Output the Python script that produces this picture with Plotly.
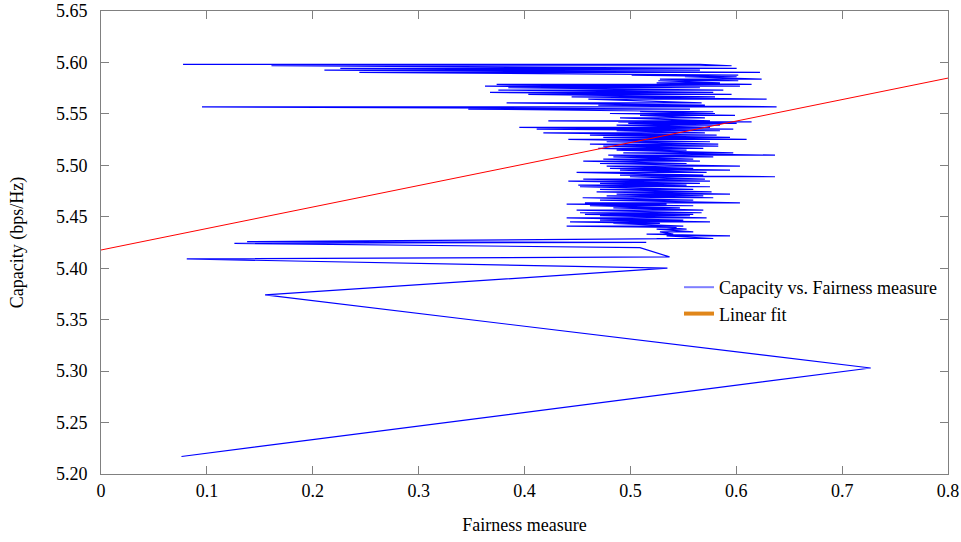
import plotly.graph_objects as go

# Lower, sparse part of the path (fairness, capacity) in path order
tail_fairness = [0.076, 0.727, 0.155, 0.535, 0.081, 0.537, 0.509, 0.126, 0.515, 0.138, 0.537]
tail_capacity = [5.217, 5.303, 5.374, 5.400, 5.409, 5.411, 5.420, 5.4242, 5.4252, 5.4258, 5.4287]

# Dense part: capacity levels with left and right fairness extents of each stroke
level_capacity = [5.4289, 5.4315, 5.4332, 5.4354, 5.4380, 5.4396, 5.4409, 5.4435, 5.4451, 5.4468,
                  5.4490, 5.4510, 5.4523, 5.4539, 5.4565, 5.4587, 5.4607, 5.4623, 5.4636, 5.4662,
                  5.4685, 5.4704, 5.4720, 5.4743, 5.4766, 5.4792, 5.4808, 5.4824, 5.4847, 5.4866,
                  5.4889, 5.4905, 5.4931, 5.4954, 5.4970, 5.4992, 5.5018, 5.5041, 5.5061, 5.5083,
                  5.5099, 5.5122, 5.5148, 5.5164, 5.5187, 5.5206, 5.5229, 5.5252, 5.5271, 5.5294,
                  5.5316, 5.5336, 5.5352, 5.5368, 5.5391, 5.5407, 5.5423, 5.5433, 5.5462, 5.5485,
                  5.5504, 5.5521, 5.5547, 5.5569, 5.5585, 5.5608, 5.5644, 5.5666, 5.5689, 5.5709,
                  5.5731, 5.5754, 5.5770, 5.5786, 5.5802, 5.5822, 5.5838, 5.5861, 5.5877, 5.5903,
                  5.5926, 5.5942, 5.5968, 5.5981]
level_left = [0.5248, 0.5342, 0.5153, 0.5279, 0.5248, 0.5342, 0.4398, 0.4839, 0.4430, 0.4713,
              0.4398, 0.4713, 0.4571, 0.4524, 0.4492, 0.4839, 0.4618, 0.4398, 0.4571, 0.4713,
              0.4549, 0.4776, 0.4870, 0.4681, 0.4713, 0.4524, 0.4508, 0.4713, 0.4414, 0.4555,
              0.4996, 0.4902, 0.4492, 0.4902, 0.4807, 0.4776, 0.4713, 0.4555, 0.4744, 0.4839,
              0.4791, 0.4933, 0.4870, 0.4697, 0.4744, 0.4618, 0.4776, 0.4414, 0.4744, 0.4618,
              0.4178, 0.4870, 0.4115, 0.3951, 0.4870, 0.4980, 0.4886, 0.4225, 0.4902, 0.5091,
              0.4807, 0.5091, 0.3469, 0.0954, 0.4697, 0.3831, 0.4603, 0.4445, 0.4036, 0.3674,
              0.3753, 0.3847, 0.3627, 0.3737, 0.5248, 0.5264, 0.5279, 0.5515, 0.5012, 0.244,
              0.211, 0.226, 0.161, 0.0775]
level_right = [0.5783, 0.5941, 0.5405, 0.5594, 0.5531, 0.5437, 0.5500, 0.5279, 0.5752, 0.5500,
               0.5720, 0.5563, 0.5594, 0.5673, 0.5689, 0.5468, 0.5594, 0.5342, 0.6035, 0.5594,
               0.5783, 0.5689, 0.5941, 0.5767, 0.5594, 0.5752, 0.5531, 0.5657, 0.5752, 0.5704,
               0.6366, 0.5689, 0.5720, 0.5941, 0.5594, 0.6035, 0.5531, 0.5657, 0.5594, 0.5783,
               0.6366, 0.5972, 0.5531, 0.5689, 0.5830, 0.5830, 0.5752, 0.6098, 0.5941, 0.5815,
               0.5704, 0.5846, 0.5972, 0.5752, 0.5846, 0.6004, 0.6145, 0.5752, 0.5704, 0.5988,
               0.5799, 0.5783, 0.5563, 0.6381, 0.5704, 0.5673, 0.6287, 0.5799, 0.5956, 0.5783,
               0.5878, 0.5657, 0.6035, 0.6145, 0.5846, 0.6019, 0.6240, 0.6004, 0.6019, 0.6224,
               0.5657, 0.6004, 0.5956, 0.5657]

# Linear fit end points
fit_fairness = [0.0, 0.8]
fit_capacity = [5.4177, 5.5848]

x_ticks = [0, 0.1, 0.2, 0.3, 0.4, 0.5, 0.6, 0.7, 0.8]
y_ticks = [5.20, 5.25, 5.30, 5.35, 5.40, 5.45, 5.50, 5.55, 5.60, 5.65]

# build the path: each level stroked left->right, the return goes to the next level's left tip
path_x = list(tail_fairness)
path_y = list(tail_capacity)
n = len(level_capacity)
for i, (c, a, b) in enumerate(zip(level_capacity, level_left, level_right)):
    if i == n - 1:
        path_x += [b, a]
    else:
        path_x += [a, b]
    path_y += [c, c]

FONT = "Liberation Serif, Times New Roman, serif"

fig = go.Figure()
fig.add_trace(go.Scatter(x=path_x, y=path_y, mode="lines",
                         line=dict(color="#0000ff", width=1.2),
                         name="Capacity vs. Fairness measure", showlegend=False))
fig.add_trace(go.Scatter(x=fit_fairness, y=fit_capacity, mode="lines",
                         line=dict(color="#ff0000", width=1),
                         name="Linear fit", showlegend=False))
# legend entries
fig.add_trace(go.Scatter(x=[None], y=[None], mode="lines",
                         line=dict(color="#7f7fff", width=2),
                         name="Capacity vs. Fairness measure"))
fig.add_trace(go.Scatter(x=[None], y=[None], mode="lines",
                         line=dict(color="#e0861a", width=4),
                         name="Linear fit"))

axis_common = dict(showgrid=False, zeroline=False, showline=True, linecolor="#808080",
                   linewidth=1, mirror="ticks", ticks="inside", ticklen=8,
                   tickcolor="#808080", automargin=False,
                   tickfont=dict(family=FONT, size=18, color="black"))

fig.update_layout(
    width=961, height=542,
    margin=dict(l=101, r=13, t=11, b=68),
    paper_bgcolor="white", plot_bgcolor="white",
    font=dict(family=FONT, size=18, color="black"),
    xaxis=dict(range=[0, 0.8], tickvals=x_ticks,
               ticktext=[("%g" % v) for v in x_ticks],
               title=dict(text="Fairness measure", font=dict(family=FONT, size=18), standoff=18),
               **axis_common),
    yaxis=dict(range=[5.2, 5.65], tickvals=y_ticks,
               ticktext=[("%.2f" % v) for v in y_ticks],
               ticklabelstandoff=9,
               title=dict(text="Capacity (bps/Hz)", font=dict(family=FONT, size=18), standoff=27),
               **axis_common),
    legend=dict(x=0.6824, y=0.4428, xanchor="left", yanchor="top",
                bgcolor="rgba(0,0,0,0)", borderwidth=0,
                font=dict(family=FONT, size=18), tracegroupgap=0),
    showlegend=True,
)

fig.write_html("out.html",
               config={"displayModeBar": False},
               post_script="document.body.style.margin='0';document.body.style.padding='0';"
                           "document.documentElement.style.overflow='hidden';")
